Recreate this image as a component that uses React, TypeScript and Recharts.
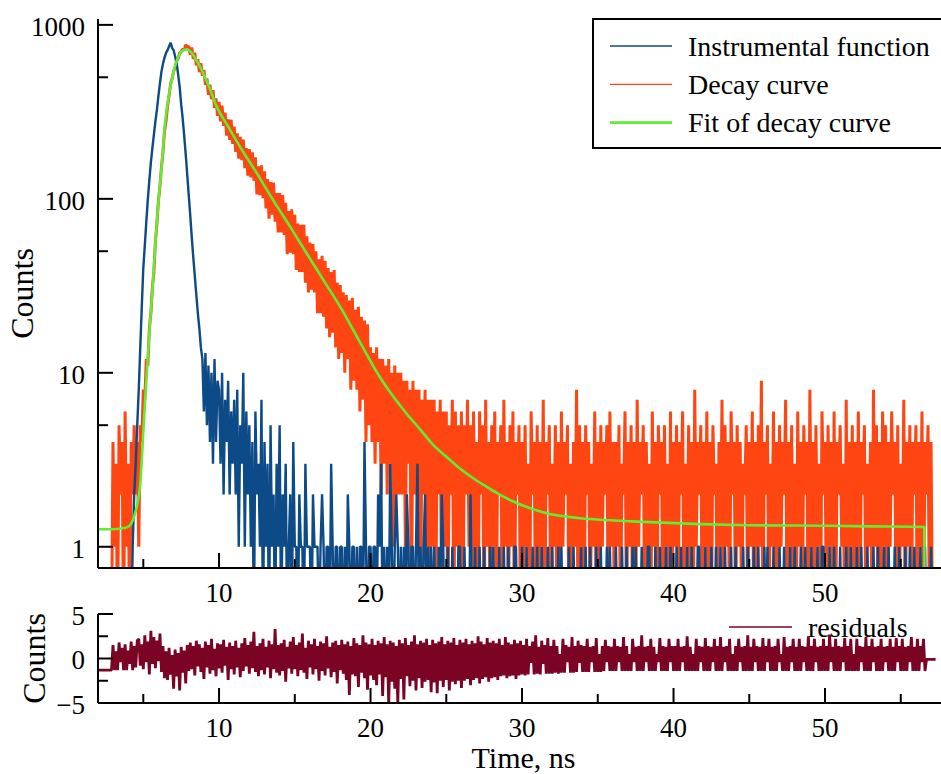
import React from "react";
import { LineChart, Line, XAxis, YAxis, Legend } from "recharts";

// ---------------- data ----------------
// Decay trace and instrument response: one value per 0.1 ns channel starting at 2.9 ns
const TRACE_START = 2.9;
const TRACE_STEP = 0.1;
// Residuals: one value per 0.1 ns starting at 2.0 ns
const RESID_START = 2.0;

const decayCounts = [
  0, 4, 1, 3, 0, 5, 2, 4, 0, 6, 1, 3, 0, 4, 2, 5,
  2, 4, 1, 5, 4, 8,
  7, 12, 11, 18, 22, 31, 38, 57, 72, 98, 118, 152, 186, 244, 280, 340, 392, 458, 490, 540, 566, 618, 640, 690, 700, 728, 712, 770, 740,
  755, 673, 743, 636, 693, 585, 636, 536, 602, 510, 552, 452, 492, 396, 453, 374, 421, 333, 378, 300,
  361, 279, 343, 263, 313, 231, 286, 218, 285, 207, 260, 186, 238, 170, 227, 167, 219, 150, 196, 136,
  193, 133, 185, 127, 173, 106, 154, 105, 156, 101, 144, 88, 130, 77, 125, 81, 124, 74, 108, 64,
  108, 64, 105, 62, 95, 48, 85, 49, 87, 48, 81, 39, 72, 38, 71, 38, 71, 33, 61, 29,
  56, 30, 55, 29, 50, 22, 45, 22, 47, 21, 44, 18, 40, 16, 38, 17, 39, 14, 33, 12,
  32, 13, 29, 10, 28, 12, 26, 8, 27, 9, 23, 8, 24, 6, 21, 7, 20, 4, 19, 5,
  14, 4, 13, 3, 14, 4, 12, 2, 12, 3, 11, 2, 12, 3, 10, 1, 11, 2, 10, 2,
  10, 2, 9, 1, 9, 3, 8, 0, 9, 2, 8, 1, 8, 0, 7, 2, 8, 1, 7, 0,
  7, 1, 7, 0, 6, 2, 7, 0, 6, 1, 6, 0, 5, 2, 7, 0, 6, 1, 5, 0,
  6, 0, 5, 2, 7, 1, 5, 0, 6, 1, 4, 0, 6, 2, 5, 0, 7, 1, 4, 0,
  5, 1, 6, 0, 4, 2, 5, 0, 7, 1, 4, 0, 5, 1, 6, 0, 4, 2, 5, 0,
  4, 0, 5, 1, 3, 0, 6, 2, 4, 0, 5, 0, 4, 1, 7, 0, 4, 2, 5, 0,
  3, 1, 5, 0, 4, 0, 6, 1, 4, 2, 5, 0, 3, 0, 4, 1, 8, 0, 5, 1,
  4, 0, 5, 2, 4, 0, 3, 1, 6, 0, 4, 0, 5, 1, 4, 2, 5, 0, 6, 1,
  4, 0, 4, 1, 5, 0, 3, 2, 6, 0, 4, 1, 5, 0, 4, 0, 7, 1, 4, 2,
  5, 0, 4, 1, 3, 0, 6, 1, 4, 0, 5, 2, 4, 0, 5, 1, 3, 0, 6, 0,
  4, 1, 5, 0, 4, 2, 6, 0, 3, 1, 5, 0, 4, 0, 8, 1, 4, 2, 5, 0,
  4, 1, 6, 0, 4, 0, 5, 2, 3, 0, 4, 1, 7, 0, 5, 1, 4, 0, 6, 2,
  4, 0, 5, 1, 4, 0, 3, 2, 5, 0, 4, 1, 6, 0, 4, 0, 5, 1, 9, 0,
  4, 2, 5, 0, 3, 1, 6, 0, 4, 0, 5, 1, 4, 2, 7, 0, 4, 1, 5, 0,
  3, 0, 6, 1, 4, 0, 5, 2, 4, 0, 8, 1, 4, 0, 5, 1, 3, 0, 6, 2,
  4, 0, 5, 1, 4, 0, 6, 0, 4, 2, 5, 1, 3, 0, 7, 0, 4, 1, 5, 0,
  4, 1, 6, 0, 4, 2, 5, 0, 3, 1, 4, 0, 8, 1, 5, 0, 4, 0, 6, 1,
  5, 0, 4, 1, 6, 2, 4, 0, 5, 0, 3, 1, 7, 0, 4, 1, 5, 0, 4, 2,
  5, 0, 4, 1, 6, 0, 4, 2, 5, 0, 4, 0,
];

const irfCounts = [
  0, 0, 0, 0, 0, 0, 0, 0, 0, 0, 0, 0, 0, 0,
  1, 2, 3, 5, 8,
  14, 24, 40, 54, 74, 100, 128, 162, 196, 234, 280, 326, 392, 462, 540, 598, 648, 690, 716, 752,
  790, 738, 715, 660, 600, 520, 440, 350, 290, 230, 180, 138, 105, 80, 60, 46, 36, 28, 22, 18, 14,
  12, 6, 13, 5, 11, 4, 10, 3, 12, 4, 9,
  8, 3, 10, 2, 7, 4, 9, 2, 6, 3,
  7, 2, 8, 1, 5, 3, 10, 1, 6, 2,
  5, 1, 4, 0, 6, 2, 3, 1, 7, 0,
  4, 1, 3, 0, 5, 1, 2, 0, 3, 1,
  5, 0, 2, 1, 3, 0, 1, 2, 0, 4,
  1, 1, 0, 2, 1, 1, 0, 3, 1, 1,
  1, 0, 2, 1, 1, 1, 0, 1, 2, 1,
  0, 1, 1, 0, 3, 1, 0, 1, 1, 0,
  1, 1, 0, 1, 0, 2, 1, 0, 1, 1,
  0, 1, 0, 1, 1, 0, 4, 1, 0, 1,
  1, 0, 1, 1, 0, 2, 1, 3, 0, 1,
  0, 1, 0, 3, 1, 0, 1, 2, 1, 0,
  1, 0, 1, 0, 2, 1, 0, 1, 1, 0,
  1, 3, 0, 1, 0, 1, 2, 0, 1, 0,
  1, 0, 1, 0, 0, 1, 0, 2, 1, 0,
  0, 1, 0, 0, 1, 0, 0, 0, 1, 1, 0, 0, 1, 0, 0, 0, 2, 0, 0, 1,
  0, 0, 1, 0, 0, 1, 0, 0, 0, 1, 0, 1, 0, 0, 0, 1, 0, 0, 1, 0,
  0, 1, 0, 0, 0, 1, 1, 0, 0, 0, 1, 0, 0, 1, 0, 0, 0, 1, 0, 0,
  1, 0, 0, 1, 0, 0, 0, 1, 0, 0, 1, 0, 0, 0, 1, 0, 1, 0, 0, 0,
  0, 1, 0, 0, 1, 0, 0, 0, 0, 1, 0, 0, 1, 0, 0, 1, 0, 0, 0, 1,
  0, 0, 1, 0, 0, 0, 1, 0, 1, 0, 0, 0, 1, 0, 0, 0, 1, 0, 0, 1,
  0, 0, 0, 1, 0, 1, 0, 0, 0, 1, 0, 0, 0, 1, 1, 0, 0, 0, 1, 0,
  0, 1, 0, 0, 0, 1, 0, 0, 1, 0, 0, 0, 1, 0, 0, 1, 0, 0, 0, 1,
  0, 0, 1, 0, 0, 0, 1, 1, 0, 0, 0, 1, 0, 0, 0, 1, 0, 0, 1, 0,
  0, 1, 0, 0, 1, 0, 0, 0, 1, 0, 0, 1, 0, 0, 0, 0, 1, 0, 0, 1,
  0, 0, 0, 1, 0, 0, 1, 0, 0, 0, 1, 0, 1, 0, 0, 0, 1, 0, 0, 0,
  1, 0, 0, 1, 0, 0, 0, 1, 0, 0, 1, 0, 0, 0, 1, 0, 0, 1, 0, 0,
  0, 1, 0, 0, 0, 1, 0, 0, 1, 1, 0, 0, 0, 1, 0, 0, 1, 0, 0, 0,
  1, 0, 0, 0, 1, 0, 0, 1, 0, 0, 0, 1, 0, 0, 1, 0, 0, 0, 1, 0,
  0, 0, 1, 0, 0, 1, 0, 0, 0, 1, 0, 0, 1, 0, 0, 0, 1, 0, 0, 1,
  0, 0, 0, 1, 0, 0, 1, 0, 0, 1, 0, 0, 0, 1, 0, 0, 1, 0, 0, 0, 1, 0,
];

const fitTime = [
  2.0, 3.0, 3.9, 4.2, 4.4, 4.6, 4.8, 4.95, 5.1, 5.25, 5.4, 5.6, 5.9, 6.2, 6.45, 6.7, 6.98, 7.2, 7.43, 7.65,
  7.87, 8.1, 8.4, 8.75, 9.3, 9.85, 10.6, 11.39, 12.5, 13.58, 14.7, 15.79, 16.9, 17.99, 19.3, 20.6, 21.5, 22.4,
  23.3, 24.15, 25.0, 25.9, 26.8, 27.67, 28.5, 29.43, 30.5, 31.63, 32.7, 33.83, 35.8, 38.0, 41.75, 45.0, 50.0,
  53.0, 56.55, 56.6,
];
const fitCounts = [
  1.26, 1.26, 1.29, 1.36, 1.5, 1.75, 2.3, 3.8, 6.5, 10.5, 17, 30, 75, 150, 280, 400, 526, 620, 685, 718,
  725, 705, 650, 574, 450, 339, 260, 199, 140, 98, 69, 48.5, 34, 24, 15, 9.5, 7.3, 5.8,
  4.7, 3.84, 3.3, 2.82, 2.47, 2.21, 2.0, 1.82, 1.67, 1.56, 1.5, 1.46, 1.42, 1.39, 1.35, 1.33, 1.32,
  1.31, 1.3, 0,
];

const residuals = [
  -1.3, -1.3, -1.3, -1.3, -1.3, -1.3, -1.3, -1.3, -1.3, -1.3,
  1.5, -1.3, 0.8, -1.3, 1.8, -0.4, 1.2, -1.3, 1.6, -1.3, 0.9, -0.6, 1.9, -1.3, 1.4, -1.0, 2.0,
  2.2, -0.8, 1.6, -1.2, 2.6, -0.4, 1.9, -1.8, 3.1, -0.6, 2.4, -1.1, 2.0, -0.3, 2.8, -1.5, 1.4, -2.2,
  0.8, -2.4, 1.2, -1.8, 0.4, -3.4, 1.0, -2.0, 0.6, -3.6, 1.3, -1.6, 0.9, -2.8, 1.5, -1.4,
  1.8, -1.2, 1.4, -1.9, 2.0, -0.9, 1.6, -1.5, 1.2, -2.3, 1.9, -1.0, 1.5, -1.7, 2.2, -1.3, 1.1, -2.0, 1.7, -1.1,
  1.6, -1.6, 2.1, -0.8, 1.3, -2.4, 1.8, -1.2, 1.4, -1.8, 2.0, -1.0, 1.2, -2.1, 1.7, -1.4, 2.3, -0.9, 1.5, -1.7,
  1.9, -1.1, 3.0, -1.5, 1.4, -2.0, 1.7, -1.3, 2.2, -1.8, 1.3, -1.0, 2.0, -2.2, 1.6, -1.2, 3.3, -1.6, 1.5, -1.9,
  1.7, -1.4, 2.1, -2.6, 1.3, -1.1, 1.9, -1.7, 2.4, -1.2, 1.5, -2.0, 1.8, -1.3, 2.8, -1.6, 1.2, -2.3, 2.0, -1.0,
  1.6, -1.8, 2.2, -1.2, 1.4, -2.5, 1.9, -1.4, 1.7, -1.9, 2.5, -1.1, 1.3, -2.1, 1.8, -1.5, 2.0, -2.8, 1.5, -1.3,
  2.1, -1.7, 1.6, -2.4, 1.9, -4.1, 1.4, -1.8, 2.3, -2.0, 1.7, -3.2, 1.5, -1.6, 2.6, -2.2, 1.8, -3.5, 1.6, -1.9,
  2.2, -2.4, 1.5, -3.0, 2.0, -1.8, 1.7, -4.2, 2.4, -2.1, 1.6, -5.0, 2.0, -2.6, 1.8, -3.4, 1.4, -5.0, 2.1, -2.3,
  1.7, -4.6, 2.3, -2.0, 1.5, -3.1, 1.9, -2.5, 2.6, -3.6, 1.6, -2.2, 2.0, -3.3, 1.8, -2.6, 2.2, -2.4, 1.5, -3.8,
  2.1, -2.7, 1.7, -3.9, 1.9, -2.5, 2.4, -3.2, 1.6, -2.4, 2.0, -3.6, 1.8, -2.6, 2.3, -2.9, 1.5, -2.5, 2.1, -3.3,
  1.8, -2.5, 2.2, -2.3, 1.6, -3.0, 2.0, -2.4, 1.7, -2.2, 2.5, -2.8, 1.9, -2.3, 1.6, -2.1, 2.3, -2.6, 1.8, -2.2,
  2.0, -2.1, 1.7, -2.4, 2.2, -2.0, 1.5, -1.9, 2.4, -2.2, 1.8, -2.0, 1.6, -1.9, 2.1, -2.3, 1.7, -1.9, 2.0, -1.8,
  1.5, -1.9, 2.2, -1.8, 1.4, -0.5, 1.9, -1.8, 2.6, -1.7, 1.3, -1.8, 2.0, -0.6, 1.5, -1.7, 2.3, -1.7, 1.4, -1.7,
  2.1, -1.6, 1.4, -1.7, 0.5, -1.6, 2.2, -1.6, 1.5, -0.4, 1.3, -1.6, 2.4, -1.6, 1.4, -1.5, 2.0, -0.5, 1.5, -1.5,
  1.4, -1.5, 2.2, -1.5, 1.3, -0.4, 1.4, -1.5, 2.3, -1.5, 0.5, -1.5, 1.4, -1.4, 2.1, -0.4, 1.4, -1.4, 1.3, -1.4,
  2.2, -1.4, 1.4, -0.4, 1.3, -1.4, 2.4, -1.4, 1.4, -1.4, 0.5, -1.4, 2.2, -0.4, 1.3, -1.4, 1.4, -1.4, 2.6, -1.4,
  1.3, -0.4, 1.4, -1.4, 2.2, -1.4, 1.3, -1.4, 0.5, -0.4, 2.3, -1.4, 1.4, -1.4, 1.3, -1.4, 2.2, -0.4, 1.4, -1.4,
  1.4, -1.4, 2.2, -1.4, 1.3, -0.4, 1.4, -1.4, 2.5, -1.4, 1.3, -1.4, 0.5, -1.4, 2.2, -1.4, 1.4, -0.4, 1.3, -1.4,
  2.3, -1.4, 1.4, -1.4, 1.3, -0.4, 2.2, -1.4, 1.4, -1.4, 2.4, -1.4, 1.3, -0.4, 1.4, -1.4, 2.2, -1.4, 0.5, -1.4,
  1.4, -1.4, 2.2, -0.4, 1.3, -1.4, 1.4, -1.4, 2.6, -1.4, 1.3, -1.4, 2.2, -0.4, 1.4, -1.4, 1.3, -1.4, 2.3, -1.4,
  1.4, -0.4, 2.2, -1.4, 1.3, -1.4, 1.4, -1.4, 2.2, -0.4, 0.5, -1.4, 2.4, -1.4, 1.3, -1.4, 1.4, -0.4, 2.2, -1.4,
  1.3, -1.4, 2.2, -1.4, 1.4, -0.4, 1.3, -1.4, 2.5, -1.4, 1.4, -1.4, 2.2, -0.4, 1.3, -1.4, 1.4, -1.4, 2.2, -1.4,
  1.4, -1.4, 2.7, -0.4, 1.3, -1.4, 2.2, -1.4, 1.4, -1.4, 1.3, -0.4, 2.3, -1.4, 1.4, -1.4, 2.2, -1.4, 0.5, -1.4,
  2.2, -1.4, 1.4, -0.4, 1.3, -1.4, 2.4, -1.4, 1.4, -1.4, 2.2, -0.4, 1.3, -1.4, 1.4, -1.4, 2.2, -1.4, 1.3, -0.4,
  1.4, -1.4, 2.2, -1.4, 1.3, -1.4, 2.3, -0.4, 1.4, -1.4, 2.2, -1.4, 1.3, -1.4, 1.4, -0.4, 2.4, -1.4, 1.3, -1.4,
  2.2, -1.4, 1.4, -0.4, 2.2, -1.4, -0.1, -0.1, -0.1, -0.1, -0.1, -0.1, -0.1,
];

const xTicks = [5, 10, 15, 20, 25, 30, 35, 40, 45, 50, 55];
const xLabelTicks = [10, 20, 30, 40, 50];
const yTicks = [1, 5, 10, 50, 100, 500, 1000];
const yLabelTicks = [1, 10, 100, 1000];
const resTicks = [-5, -2.5, 0, 2.5, 5];
const resLabelTicks = [-5, 0, 5];

const legendItems = [
  { name: "Instrumental function", color: "#0C4A88", width: 1.3 },
  { name: "Decay curve", color: "#FF4512", width: 1.3 },
  { name: "Fit of decay curve", color: "#5FEE33", width: 2.6 },
];
const residualName = "residuals";
const residualColor = "#7B0323";

// ---------------- layout / style ----------------
const FONT = "'Liberation Serif', 'Times New Roman', serif";
const X_DOMAIN: [number, number] = [2.01, 57.92];
const Y_DOMAIN: [number, number] = [0.755, 1081];
const RES_DOMAIN: [number, number] = [-5, 5];
const PLOT_LEFT = 98;
const MAIN_AXIS_Y = 568;
const RES_AXIS_Y = 103;
const ZERO_FLOOR = 0.3; // zero counts cannot sit on a log axis: drawn below the frame (clipped)

const chanTime = (start: number, i: number) => Math.round((start + i * TRACE_STEP) * 1000) / 1000;
const decayData = decayCounts.map((c, i) => ({ t: chanTime(TRACE_START, i), v: c > 0 ? c : ZERO_FLOOR }));
const irfData = irfCounts.map((c, i) => ({ t: chanTime(TRACE_START, i), v: c > 0 ? c : ZERO_FLOOR }));
const fitData = fitTime.map((t, i) => ({ t, v: fitCounts[i] > 0 ? fitCounts[i] : ZERO_FLOOR }));
const resData = residuals.map((r, i) => ({ t: chanTime(RESID_START, i), v: r }));

const makeXTick = (axisY: number) => (props: any) => {
  const { x, payload } = props;
  const v = payload.value;
  const major = xLabelTicks.includes(v);
  return (
    <g>
      <line x1={x} x2={x} y1={axisY} y2={axisY - (major ? 15 : 9)} stroke="#000" strokeWidth={2} />
      {major && (
        <text x={x} y={axisY + 34} textAnchor="middle" fontFamily={FONT} fontSize={27} fill="#000">
          {v}
        </text>
      )}
    </g>
  );
};

const makeYTick = (labels: number[], fmt: (v: number) => string) => (props: any) => {
  const { y, payload } = props;
  const v = payload.value;
  const major = labels.includes(v);
  return (
    <g>
      <line x1={PLOT_LEFT} x2={PLOT_LEFT + (major ? 15 : 10)} y1={y} y2={y} stroke="#000" strokeWidth={2} />
      {major && (
        <text x={PLOT_LEFT - 13} y={y} dy="0.4em" textAnchor="end" fontFamily={FONT} fontSize={27} fill="#000">
          {fmt(v)}
        </text>
      )}
    </g>
  );
};

const YTitle = (props: any) => {
  const { viewBox, text, baselineX } = props;
  const cy = viewBox ? viewBox.y + viewBox.height / 2 : 0;
  return (
    <text
      x={baselineX}
      y={cy}
      transform={`rotate(-90, ${baselineX}, ${cy})`}
      textAnchor="middle"
      fontFamily={FONT}
      fontSize={32}
      fill="#000"
    >
      {text}
    </text>
  );
};

const XTitle = (props: any) => {
  const { viewBox, text } = props;
  const cx = viewBox ? viewBox.x + viewBox.width / 2 + 2 : 0;
  const y = viewBox ? viewBox.y + 65 : 0;
  return (
    <text x={cx} y={y} textAnchor="middle" fontFamily={FONT} fontSize={30} fill="#000">
      {text}
    </text>
  );
};

const MainLegend = () => (
  <div style={{ width: 400, height: 131, border: "2px solid #000", boxSizing: "border-box", background: "#fff" }}>
    <svg width={396} height={127} style={{ display: "block" }}>
      {legendItems.map((it, i) => (
        <g key={it.name}>
          <line x1={16} x2={78} y1={26 + 38.3 * i} y2={26 + 38.3 * i} stroke={it.color} strokeWidth={it.width} />
          <text x={94} y={35.5 + 38.3 * i} fontFamily={FONT} fontSize={28} fill="#000">
            {it.name}
          </text>
        </g>
      ))}
    </svg>
  </div>
);

const ResLegend = () => (
  <svg width={230} height={36} style={{ display: "block" }}>
    <line x1={9} x2={72} y1={15} y2={15} stroke={residualColor} strokeWidth={1.3} />
    <text x={88} y={25} fontFamily={FONT} fontSize={28} fill="#000">
      {residualName}
    </text>
  </svg>
);

const axisLineStyle = { stroke: "#000", strokeWidth: 2 };

export default function App() {
  return (
    <div style={{ position: "absolute", left: 0, top: 0, width: 941, height: 774, overflow: "hidden", background: "#fff" }}>
      <div style={{ position: "absolute", left: 0, top: 0 }}>
        <LineChart width={960} height={612} margin={{ top: 19, right: 15, bottom: 0, left: 0 }}>
          <Line
            xAxisId="x"
            yAxisId="y"
            data={decayData}
            dataKey="v"
            name={legendItems[1].name}
            type="linear"
            stroke={legendItems[1].color}
            strokeWidth={3}
            strokeLinejoin="bevel"
            dot={false}
            activeDot={false}
            isAnimationActive={false}
          />
          <Line
            xAxisId="x"
            yAxisId="y"
            data={irfData}
            dataKey="v"
            name={legendItems[0].name}
            type="linear"
            stroke={legendItems[0].color}
            strokeWidth={2.4}
            strokeLinejoin="bevel"
            dot={false}
            activeDot={false}
            isAnimationActive={false}
          />
          <Line
            xAxisId="x"
            yAxisId="y"
            data={fitData}
            dataKey="v"
            name={legendItems[2].name}
            type="monotone"
            stroke={legendItems[2].color}
            strokeWidth={2.6}
            dot={false}
            activeDot={false}
            isAnimationActive={false}
          />
          <XAxis
            xAxisId="x"
            dataKey="t"
            type="number"
            domain={X_DOMAIN}
            allowDataOverflow
            ticks={xTicks}
            interval={0}
            height={44}
            tickLine={false}
            axisLine={axisLineStyle}
            tick={makeXTick(MAIN_AXIS_Y)}
          />
          <XAxis
            xAxisId="top"
            orientation="top"
            type="number"
            domain={X_DOMAIN}
            allowDataOverflow
            height={0}
            tick={false}
            tickLine={false}
            axisLine={axisLineStyle}
          />
          <YAxis
            yAxisId="y"
            type="number"
            scale="log"
            domain={Y_DOMAIN}
            allowDataOverflow
            ticks={yTicks}
            interval={0}
            width={PLOT_LEFT}
            tickLine={false}
            axisLine={axisLineStyle}
            tick={makeYTick(yLabelTicks, (v) => String(v))}
            label={<YTitle text="Counts" baselineX={33} />}
          />
          <Legend
            layout="horizontal"
            verticalAlign="middle"
            align="center"
            content={<MainLegend />}
            wrapperStyle={{ left: 592, top: 18, width: 400, height: 131 }}
          />
        </LineChart>
      </div>
      <div style={{ position: "absolute", left: 0, top: 600 }}>
        <LineChart width={960} height={174} margin={{ top: 14, right: 15, bottom: 0, left: 0 }}>
          <Line
            xAxisId="x"
            yAxisId="y"
            data={resData}
            dataKey="v"
            name={residualName}
            type="linear"
            stroke={residualColor}
            strokeWidth={2.8}
            strokeLinejoin="bevel"
            dot={false}
            activeDot={false}
            isAnimationActive={false}
          />
          <XAxis
            xAxisId="x"
            dataKey="t"
            type="number"
            domain={X_DOMAIN}
            allowDataOverflow
            ticks={xTicks}
            interval={0}
            height={71}
            tickLine={false}
            axisLine={axisLineStyle}
            tick={makeXTick(RES_AXIS_Y)}
            label={<XTitle text="Time, ns" />}
          />
          <XAxis
            xAxisId="top"
            orientation="top"
            type="number"
            domain={X_DOMAIN}
            allowDataOverflow
            height={0}
            tick={false}
            tickLine={false}
            axisLine={axisLineStyle}
          />
          <YAxis
            yAxisId="y"
            type="number"
            domain={RES_DOMAIN}
            allowDataOverflow
            ticks={resTicks}
            interval={0}
            width={PLOT_LEFT}
            tickLine={false}
            axisLine={axisLineStyle}
            tick={makeYTick(resLabelTicks, (v) => (v < 0 ? "\u2212" + Math.abs(v) : String(v)))}
            label={<YTitle text="Counts" baselineX={45} />}
          />
          <Legend
            layout="horizontal"
            verticalAlign="middle"
            align="center"
            content={<ResLegend />}
            wrapperStyle={{ left: 720, top: 12, width: 230, height: 36 }}
          />
        </LineChart>
      </div>
    </div>
  );
}
